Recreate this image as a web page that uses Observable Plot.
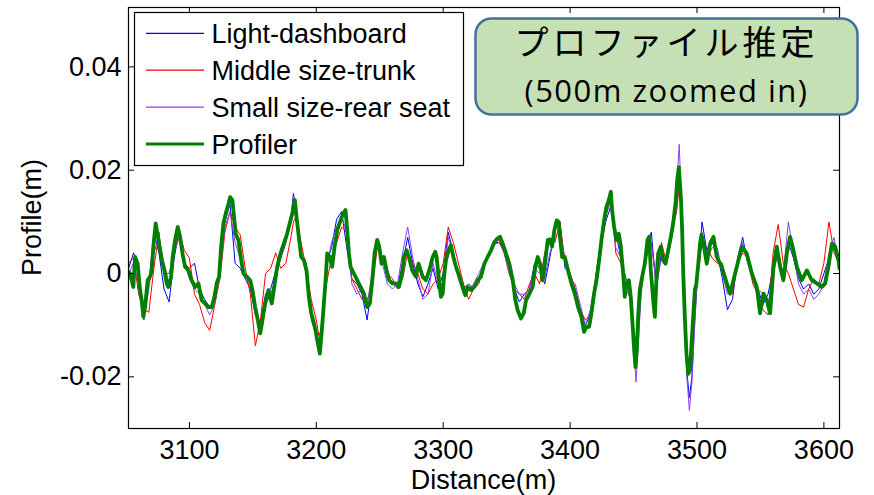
<!DOCTYPE html>
<html>
<head>
<meta charset="utf-8">
<script src="https://cdn.jsdelivr.net/npm/d3@7"></script>
<script src="https://cdn.jsdelivr.net/npm/@observablehq/plot@0.6"></script>
<style>
  html, body { margin: 0; padding: 0; background: #fff; }
  #chart { width: 874px; height: 495px; }
</style>
</head>
<body>
<div id="chart"></div>
<script>
// Road profile estimates (m) against distance (m), 3052–3612 m stretch.

// Profiler reference measurement
const profilerDist = [
  3052.5, 3053.2, 3055.8, 3057.2, 3059.2, 3061.1, 3062.4, 3063.7, 3065.1, 3067.1,
  3069.0, 3070.3, 3071.6, 3073.4, 3075.6, 3076.9, 3078.2, 3080.3, 3082.1, 3083.4,
  3085.6, 3086.8, 3088.7, 3090.8, 3092.7, 3094.5, 3096.6, 3099.2, 3101.8, 3104.5,
  3107.1, 3109.7, 3112.4, 3115.0, 3117.6, 3119.7, 3121.5, 3123.4, 3125.0, 3126.8,
  3128.6, 3130.8, 3132.1, 3133.9, 3134.9, 3136.5, 3138.6, 3140.8, 3142.6, 3145.2,
  3147.9, 3149.7, 3151.8, 3153.9, 3155.8, 3157.6, 3159.7, 3162.3, 3164.9, 3166.5,
  3169.2, 3171.8, 3174.4, 3177.0, 3179.7, 3181.8, 3183.1, 3184.4, 3186.2, 3188.1,
  3190.2, 3192.3, 3194.1, 3196.0, 3197.5, 3199.4, 3201.2, 3202.8, 3203.9, 3205.4,
  3207.3, 3208.6, 3210.7, 3212.5, 3214.4, 3216.5, 3219.1, 3221.2, 3223.0, 3224.4,
  3225.7, 3227.0, 3229.6, 3232.3, 3234.9, 3237.5, 3240.1, 3242.2, 3244.1, 3245.9,
  3248.0, 3249.6, 3251.4, 3253.3, 3255.4, 3257.5, 3259.9, 3262.5, 3265.1, 3267.7,
  3269.1, 3271.2, 3273.0, 3275.6, 3278.3, 3280.6, 3283.8, 3286.4, 3289.0, 3291.7,
  3293.8, 3294.8, 3296.4, 3298.2, 3299.6, 3300.9, 3302.2, 3304.3, 3306.1, 3308.0,
  3310.1, 3312.7, 3315.3, 3317.4, 3319.3, 3321.9, 3324.5, 3327.2, 3329.8, 3332.4,
  3335.0, 3337.7, 3340.3, 3342.9, 3344.8, 3346.9, 3349.5, 3352.1, 3354.8, 3356.9,
  3358.7, 3361.3, 3363.4, 3365.3, 3367.9, 3370.5, 3372.6, 3374.5, 3376.3, 3378.4,
  3380.5, 3382.4, 3384.2, 3385.8, 3387.6, 3389.5, 3391.0, 3392.0, 3393.7, 3395.8,
  3398.4, 3401.0, 3403.7, 3406.3, 3408.9, 3411.0, 3412.9, 3415.0, 3416.8, 3418.9,
  3420.8, 3422.9, 3424.7, 3426.8, 3428.6, 3430.5, 3432.1, 3433.1, 3434.7, 3436.5,
  3438.4, 3440.0, 3441.8, 3443.1, 3444.4, 3446.3, 3447.8, 3449.2, 3450.5, 3451.5,
  3452.6, 3453.6, 3454.9, 3456.8, 3458.9, 3461.0, 3462.3, 3463.6, 3465.5, 3466.8,
  3468.1, 3469.4, 3471.5, 3473.3, 3475.2, 3477.3, 3479.4, 3481.2, 3483.1, 3484.4,
  3485.7, 3487.3, 3488.3, 3489.1, 3490.4, 3491.7, 3493.1, 3494.6, 3495.7, 3497.0,
  3498.3, 3499.5, 3501.0, 3502.4, 3503.5, 3505.1, 3507.7, 3510.3, 3513.0, 3515.6,
  3519.5, 3523.5, 3526.1, 3528.7, 3532.7, 3535.3, 3539.2, 3543.2, 3547.1, 3549.7,
  3552.4, 3555.0, 3557.6, 3560.3, 3562.9, 3565.5, 3568.1, 3570.8, 3573.4, 3576.0,
  3578.7, 3582.6, 3586.6, 3590.5, 3594.4, 3598.4, 3601.0, 3603.6, 3606.3, 3608.9,
  3611.5, 3612.3
];
const profilerVal = [
  0.0003, 0.0000, -0.0026, 0.0032, 0.0019, -0.0032, -0.0052, -0.0084, -0.0065, -0.0013,
  -0.0006, 0.0006, 0.0052, 0.0097, 0.0065, 0.0045, 0.0026, 0.0006, -0.0019, -0.0026,
  -0.0006, 0.0032, 0.0065, 0.0090, 0.0071, 0.0039, 0.0013, 0.0006, -0.0013, -0.0026,
  -0.0019, -0.0052, -0.0058, -0.0065, -0.0065, -0.0045, -0.0019, -0.0006, 0.0052, 0.0097,
  0.0116, 0.0135, 0.0148, 0.0142, 0.0116, 0.0077, 0.0065, 0.0026, 0.0000, -0.0006,
  -0.0013, -0.0032, -0.0065, -0.0090, -0.0116, -0.0090, -0.0058, -0.0032, -0.0058, -0.0032,
  0.0013, 0.0039, 0.0058, 0.0077, 0.0103, 0.0123, 0.0142, 0.0110, 0.0071, 0.0032,
  0.0026, 0.0006, -0.0045, -0.0077, -0.0090, -0.0110, -0.0135, -0.0155, -0.0123, -0.0077,
  -0.0013, 0.0039, 0.0032, 0.0013, 0.0052, 0.0084, 0.0103, 0.0116, 0.0123, 0.0084,
  0.0039, 0.0013, 0.0000, -0.0013, -0.0026, -0.0039, -0.0065, -0.0058, -0.0013, 0.0039,
  0.0065, 0.0052, 0.0019, 0.0032, 0.0006, -0.0013, -0.0019, -0.0019, -0.0026, 0.0000,
  0.0032, 0.0045, 0.0032, 0.0006, -0.0006, 0.0019, -0.0006, -0.0013, 0.0006, 0.0032,
  0.0042, 0.0032, -0.0006, -0.0045, -0.0039, 0.0000, 0.0026, 0.0045, 0.0055, 0.0032,
  0.0013, -0.0006, -0.0026, -0.0042, -0.0026, -0.0032, -0.0026, -0.0013, -0.0006, 0.0019,
  0.0032, 0.0045, 0.0061, 0.0068, 0.0071, 0.0058, 0.0039, 0.0019, -0.0013, -0.0052,
  -0.0071, -0.0087, -0.0077, -0.0052, -0.0039, -0.0026, 0.0013, 0.0032, 0.0019, -0.0013,
  0.0026, 0.0065, 0.0065, 0.0052, 0.0084, 0.0103, 0.0100, 0.0071, 0.0032, 0.0032,
  0.0006, -0.0019, -0.0039, -0.0065, -0.0084, -0.0113, -0.0103, -0.0103, -0.0077, -0.0039,
  -0.0013, 0.0026, 0.0065, 0.0103, 0.0129, 0.0142, 0.0158, 0.0123, 0.0090, 0.0065,
  0.0077, 0.0052, 0.0000, -0.0045, -0.0019, -0.0013, -0.0045, -0.0097, -0.0148, -0.0181,
  -0.0148, -0.0084, -0.0032, -0.0006, 0.0019, 0.0065, 0.0071, 0.0006, -0.0052, -0.0084,
  -0.0006, 0.0039, 0.0052, 0.0026, 0.0019, 0.0045, 0.0071, 0.0097, 0.0136, 0.0181,
  0.0206, 0.0148, 0.0084, 0.0006, -0.0084, -0.0155, -0.0194, -0.0187, -0.0136, -0.0084,
  -0.0032, -0.0020, 0.0019, 0.0058, 0.0075, 0.0058, 0.0019, 0.0058, 0.0071, 0.0032,
  0.0013, -0.0019, -0.0039, -0.0013, 0.0026, 0.0052, 0.0039, 0.0000, -0.0026, -0.0077,
  -0.0039, -0.0052, -0.0077, 0.0013, 0.0052, 0.0013, -0.0013, 0.0039, 0.0071, 0.0045,
  0.0013, -0.0013, 0.0006, -0.0013, -0.0019, -0.0026, -0.0019, 0.0013, 0.0058, 0.0052,
  0.0026, 0.0010
];

// In-vehicle smartphone estimates, sampled at common distances
const sensorDist = [
  3052, 3056, 3060, 3064, 3068, 3072, 3076, 3080, 3084, 3088,
  3092, 3096, 3100, 3104, 3108, 3112, 3116, 3120, 3124, 3128,
  3132, 3136, 3140, 3144, 3148, 3152, 3156, 3160, 3164, 3168,
  3172, 3176, 3180, 3182, 3184, 3188, 3192, 3196, 3200, 3202,
  3204, 3208, 3212, 3216, 3220, 3224, 3228, 3232, 3236, 3240,
  3244, 3248, 3252, 3256, 3260, 3264, 3268, 3272, 3276, 3280,
  3284, 3288, 3292, 3296, 3300, 3304, 3308, 3312, 3316, 3320,
  3324, 3328, 3332, 3336, 3340, 3344, 3348, 3352, 3356, 3360,
  3364, 3368, 3372, 3376, 3380, 3384, 3388, 3392, 3396, 3400,
  3404, 3408, 3412, 3416, 3420, 3424, 3428, 3432, 3436, 3440,
  3444, 3448, 3450, 3452, 3456, 3460, 3464, 3468, 3472, 3476,
  3480, 3482, 3484, 3486, 3488, 3490, 3492, 3494, 3496, 3498,
  3500, 3504, 3508, 3512, 3516, 3520, 3524, 3528, 3532, 3536,
  3540, 3544, 3548, 3552, 3556, 3560, 3564, 3568, 3572, 3576,
  3580, 3584, 3588, 3592, 3596, 3600, 3604, 3608, 3612
];
const lightDashboard = [
  0.001, 0.004, 0.001, -0.009, -0.002, 0.008, 0.004, -0.003, -0.0055, 0.003,
  0.0085, 0.002, 0.001, 0.002, -0.003, -0.005, -0.0065, -0.005, 0.001, 0.010,
  0.0135, 0.002, 0.001, -0.001, -0.003, -0.008, -0.0095, -0.004, -0.003, 0.0005,
  0.003, 0.006, 0.011, 0.0155, 0.012, 0.003, 0.002, -0.008, -0.011, -0.014,
  -0.010, 0.002, 0.005, 0.0105, 0.012, 0.005, -0.001, -0.002, -0.004, -0.009,
  -0.002, 0.006, 0.003, -0.001, -0.002, -0.0025, 0.002, 0.007, 0.002, -0.002,
  -0.0045, -0.002, 0.001, -0.003, 0.000, 0.008, 0.004, 0.000, -0.003, -0.002,
  -0.003, -0.001, 0.002, 0.004, 0.006, 0.006, 0.005, 0.001, -0.003, -0.0055,
  -0.004, -0.003, 0.002, 0.001, -0.002, 0.003, 0.0085, 0.010, 0.001, 0.000,
  -0.003, -0.007, -0.010, -0.008, -0.002, 0.005, 0.010, 0.013, 0.008, 0.003,
  -0.001, -0.004, -0.012, -0.018, -0.003, 0.005, 0.008, -0.003, 0.004, 0.002,
  0.007, 0.010, 0.014, 0.020, 0.010, -0.008, -0.019, -0.024, -0.020, -0.010,
  -0.002, 0.010, 0.004, 0.006, 0.004, -0.001, -0.007, -0.005, 0.003, 0.007,
  0.002, -0.001, -0.003, -0.006, -0.004, 0.001, 0.004, -0.001, 0.006, 0.003,
  -0.001, -0.003, -0.002, -0.004, -0.003, 0.000, 0.003, 0.006, 0.001
];
const middleTrunk = [
  0.002, 0.003, -0.004, -0.007, -0.0075, 0.001, 0.008, 0.000, 0.000, 0.004,
  0.008, 0.0045, 0.003, -0.004, -0.006, -0.0095, -0.011, -0.006, -0.001, 0.008,
  0.012, 0.009, 0.0075, 0.001, -0.004, -0.014, -0.009, 0.000, 0.001, 0.004,
  0.001, 0.002, 0.007, 0.010, 0.011, 0.006, 0.001, -0.005, -0.009, -0.012,
  -0.011, -0.002, 0.003, 0.006, 0.009, 0.008, -0.001, -0.003, -0.005, -0.005,
  -0.003, 0.005, 0.003, 0.000, -0.001, -0.003, -0.001, 0.004, 0.002, 0.000,
  -0.003, -0.004, -0.002, -0.001, 0.002, 0.009, 0.006, 0.002, -0.002, -0.005,
  -0.003, -0.002, 0.001, 0.004, 0.006, 0.0065, 0.004, 0.000, -0.003, -0.004,
  -0.005, -0.002, 0.000, -0.002, 0.004, 0.007, 0.006, 0.010, 0.002, 0.000,
  -0.003, -0.007, -0.009, -0.008, -0.001, 0.006, 0.011, 0.015, 0.004, 0.002,
  -0.003, -0.005, -0.011, -0.015, -0.002, 0.003, 0.006, -0.002, 0.006, 0.002,
  0.008, 0.010, 0.012, 0.017, 0.012, -0.006, -0.015, -0.019, -0.016, -0.009,
  -0.002, 0.006, 0.005, 0.003, 0.002, 0.002, -0.003, -0.004, 0.002, 0.004,
  0.003, -0.002, -0.004, -0.007, -0.008, 0.004, 0.0095, 0.002, 0.000, -0.003,
  -0.006, -0.0065, -0.003, -0.001, -0.002, 0.002, 0.010, 0.004, 0.002
];
const smallRearSeat = [
  0.000, 0.002, -0.002, -0.009, -0.003, 0.004, 0.007, 0.002, -0.002, 0.004,
  0.007, 0.002, -0.001, -0.003, -0.004, -0.006, -0.008, -0.006, 0.000, 0.009,
  0.012, 0.006, 0.003, -0.001, -0.002, -0.007, -0.010, -0.006, -0.004, -0.001,
  0.003, 0.006, 0.010, 0.015, 0.013, 0.004, 0.000, -0.009, -0.012, -0.015,
  -0.011, 0.001, 0.006, 0.009, 0.011, 0.008, -0.002, -0.004, -0.003, -0.006,
  0.000, 0.006, 0.002, -0.002, -0.003, -0.002, 0.004, 0.009, 0.003, -0.001,
  -0.005, -0.004, 0.002, -0.002, -0.001, 0.007, 0.004, -0.001, -0.004, -0.003,
  -0.002, 0.000, 0.002, 0.004, 0.0055, 0.006, 0.004, 0.000, -0.002, -0.004,
  -0.004, -0.003, 0.001, 0.000, -0.001, 0.004, 0.007, 0.008, 0.003, -0.001,
  -0.002, -0.006, -0.010, -0.007, -0.001, 0.006, 0.011, 0.014, 0.005, 0.003,
  -0.001, -0.006, -0.014, -0.021, -0.004, 0.004, 0.006, -0.002, 0.003, 0.002,
  0.008, 0.011, 0.017, 0.025, 0.012, -0.008, -0.020, -0.0265, -0.021, -0.011,
  -0.002, 0.008, 0.003, 0.005, 0.005, 0.000, -0.004, -0.003, 0.002, 0.006,
  0.002, 0.000, -0.003, -0.004, -0.006, 0.000, 0.004, 0.000, 0.010, 0.004,
  -0.002, -0.004, -0.003, -0.005, -0.004, -0.002, 0.004, 0.007, 0.001
];

const xTicks = [3100, 3200, 3300, 3400, 3500, 3600];
const yTicks = [-0.02, 0, 0.02, 0.04];

const seriesNames = ["Light-dashboard", "Middle size-trunk", "Small size-rear seat", "Profiler"];
const seriesColors = ["#0000ff", "#ff0000", "#8a3ff0", "#008000"];
const sensorValues = [lightDashboard, middleTrunk, smallRearSeat];

const boxTitle = "プロファイル推定";
const boxSubtitle = "(500m zoomed in)";
const xLabel = "Distance(m)";
const yLabel = "Profile(m)";

// Build tidy rows for the marks
const sensorRows = sensorValues.map(vals =>
  sensorDist.map((d, i) => ({distance: d, profile: vals[i]})));
const profilerRows = profilerDist.map((d, i) => ({distance: d, profile: profilerVal[i]}));

const W = 874, H = 495;
const mL = 128, mR = 35, mT = 7, mB = 67;
const frameW = W - mL - mR, frameH = H - mT - mB;
const tickLen = 6;

const fmtY = d => d === 0 ? "0" : d.toFixed(2);

const chart = Plot.plot({
  width: W,
  height: H,
  marginLeft: mL,
  marginRight: mR,
  marginTop: mT,
  marginBottom: mB,
  x: {domain: [3052, 3612.3], label: null},
  y: {domain: [-0.03, 0.0515], label: null},
  style: {
    fontFamily: "'Liberation Sans', Arial, sans-serif",
    fontSize: "27px",
    color: "#000",
    background: "#fff",
    overflow: "visible"
  },
  marks: [
    ...sensorRows.map((rows, k) =>
      Plot.line(rows, {x: "distance", y: "profile", stroke: seriesColors[k], strokeWidth: 1, clip: true})),
    Plot.line(profilerRows, {x: "distance", y: "profile", stroke: seriesColors[3], strokeWidth: 3.8, clip: true}),
    // inward ticks on all four sides
    Plot.tickX(xTicks, {x: d => d, insetTop: frameH - tickLen, stroke: "#000"}),
    Plot.tickX(xTicks, {x: d => d, insetBottom: frameH - tickLen, stroke: "#000"}),
    Plot.tickY(yTicks, {y: d => d, insetRight: frameW - tickLen, stroke: "#000"}),
    Plot.tickY(yTicks, {y: d => d, insetLeft: frameW - tickLen, stroke: "#000"}),
    Plot.axisX(xTicks, {anchor: "bottom", tickSize: 0, tickPadding: 11, tickFormat: d => String(d), label: null}),
    Plot.axisY(yTicks, {anchor: "left", tickSize: 0, tickPadding: 7, tickFormat: fmtY, label: null}),
    Plot.frame({stroke: "#000", strokeWidth: 1.2})
  ]
});

document.getElementById("chart").appendChild(chart);

const svg = d3.select(chart);

// Axis titles
svg.append("text")
  .attr("x", mL + frameW / 2).attr("y", 489)
  .attr("text-anchor", "middle")
  .attr("font-size", 27)
  .attr("fill", "#000")
  .text(xLabel);
svg.append("text")
  .attr("transform", `translate(41,${mT + frameH / 2}) rotate(-90)`)
  .attr("text-anchor", "middle")
  .attr("font-size", 27)
  .attr("fill", "#000")
  .text(yLabel);

// Legend box in the upper left of the axes
const lg = svg.append("g").attr("text-anchor", "start");
lg.append("rect")
  .attr("x", 134.5).attr("y", 12.5).attr("width", 329).attr("height", 153)
  .attr("fill", "#fff").attr("stroke", "#000").attr("stroke-width", 1.2);
seriesNames.forEach((name, i) => {
  const y = 33.3 + i * 36.9;
  lg.append("line")
    .attr("x1", 146).attr("x2", 204).attr("y1", y).attr("y2", y)
    .attr("stroke", seriesColors[i])
    .attr("stroke-width", i === 3 ? 3 : 1.2);
  lg.append("text")
    .attr("x", 211.5).attr("y", y).attr("dy", "0.36em")
    .attr("text-anchor", "start")
    .attr("font-size", 27).attr("fill", "#000")
    .text(name);
});

// Callout box
const cb = svg.append("g");
cb.append("rect")
  .attr("x", 475.5).attr("y", 18.5).attr("width", 382).attr("height", 96)
  .attr("rx", 16).attr("ry", 16)
  .attr("fill", "#c5e0b4").attr("stroke", "#41719c").attr("stroke-width", 2.5);
cb.append("text")
  .attr("x", 666.5).attr("y", 43).attr("dy", "0.36em")
  .attr("text-anchor", "middle")
  .attr("font-family", "'Noto Sans CJK JP', sans-serif")
  .attr("font-size", 34)
  .attr("letter-spacing", 4)
  .attr("fill", "#000")
  .text(boxTitle);
cb.append("text")
  .attr("x", 666.5).attr("y", 91.5).attr("dy", "0.35em")
  .attr("text-anchor", "middle")
  .attr("font-family", "'Open Sans', sans-serif")
  .attr("font-size", 31)
  .attr("letter-spacing", 1.5)
  .attr("fill", "#000")
  .text(boxSubtitle);
</script>
</body>
</html>
